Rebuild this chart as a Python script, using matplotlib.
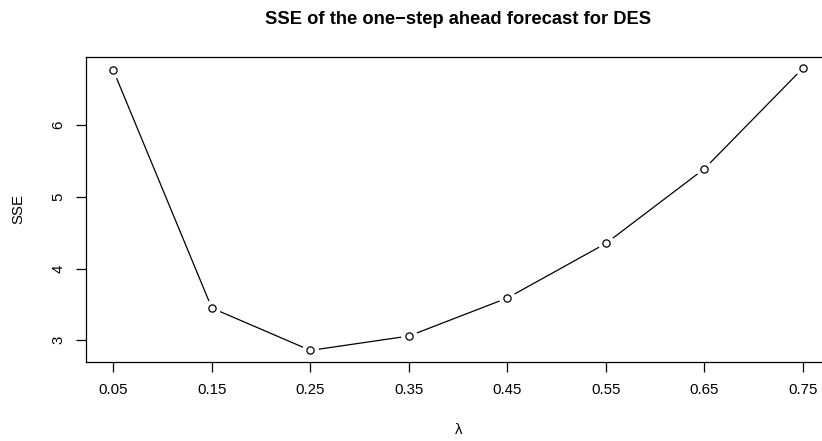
import numpy as np
import matplotlib
matplotlib.use("Agg")
import matplotlib.pyplot as plt

plt.rcParams['font.family'] = ['Liberation Sans', 'DejaVu Sans']

# smoothing constant and SSE of the one-step ahead forecast
lam = [0.05, 0.15, 0.25, 0.35, 0.45, 0.55, 0.65, 0.75]
sse = [6.76, 3.45, 2.86, 3.06, 3.59, 4.35, 5.39, 6.79]
xtick_labels = ["0.05", "0.15", "0.25", "0.35", "0.45", "0.55", "0.65", "0.75"]
yticks = [3, 4, 5, 6]

W, H = 822, 441
fig = plt.figure(figsize=(W / 100, H / 100), dpi=100)

# plot frame in pixels (R style layout, frame runs past the right edge)
left, right, top, bottom = 85.7, 830.6, 56.8, 361.7
ax = fig.add_axes([left / W, 1 - bottom / H, (right - left) / W, (bottom - top) / H])

# type="b": line with gaps around the points
ax.plot(lam, sse, color='black', lw=0.9, zorder=1)
ax.plot(lam, sse, ls='none', marker='o', ms=12, mfc='white', mec='none', zorder=2)
ax.plot(lam, sse, ls='none', marker='o', ms=5.2, mfc='none', mec='black', mew=0.9, zorder=3)

ax.margins(x=0.04, y=0.04)
ax.set_xticks(lam)
ax.set_xticklabels(xtick_labels)
ax.set_yticks(yticks)
ax.set_yticklabels([str(v) for v in yticks], rotation=90, va='center')
ax.tick_params(axis='both', direction='out', length=7, width=0.9, labelsize=10.8, color='black')
ax.tick_params(axis='x', pad=8.5)
ax.tick_params(axis='y', pad=7.5)
for s in ax.spines.values():
    s.set_linewidth(0.9)
    s.set_color('black')

cx = (left + right) / 2
cy = (top + bottom) / 2
fig.text(cx / W, 1 - 19 / H, "SSE of the one\u2212step ahead forecast for DES",
         ha='center', va='center', fontsize=13.2, fontweight='bold')
fig.text(cx / W, 1 - 430 / H, "\u03bb", ha='center', va='center', fontsize=10.8)
fig.text(18.3 / W, 1 - cy / H, "SSE", ha='center', va='center', rotation=90, fontsize=10.8)

fig.savefig("out.png", dpi=100)
